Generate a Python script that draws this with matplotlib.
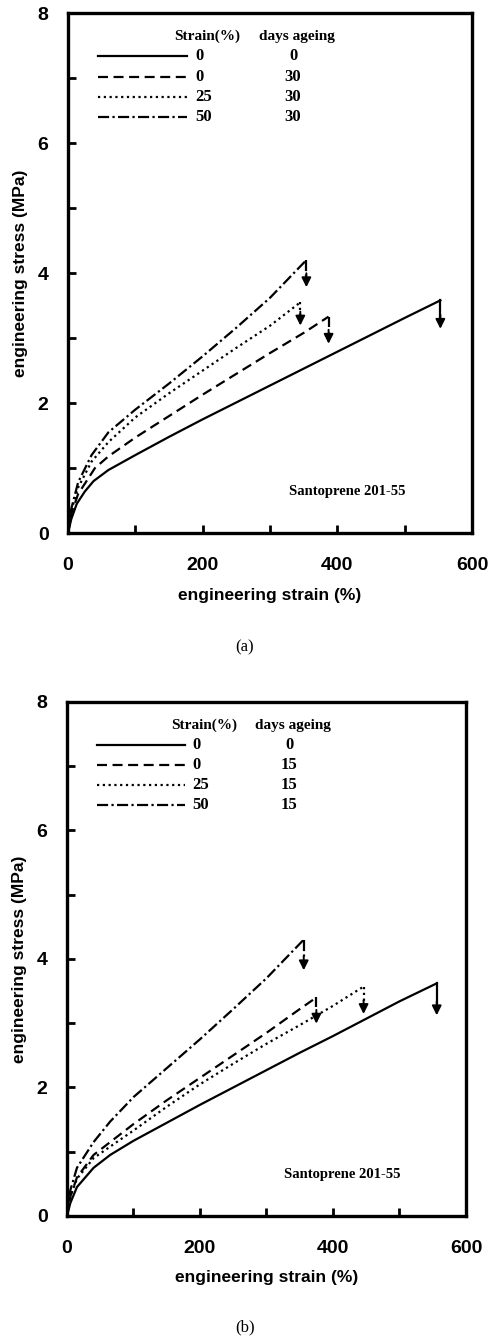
import matplotlib
matplotlib.use("Agg")
import matplotlib.pyplot as plt
from matplotlib.ticker import MultipleLocator

# panel (a): 30 days ageing
a_solid_x = [0, 5, 13, 25, 38, 60, 100, 150, 200, 250, 300, 350, 400, 450, 500, 553]
a_solid_y = [0, 0.22, 0.45, 0.64, 0.8, 0.97, 1.2, 1.48, 1.75, 2.01, 2.27, 2.53, 2.79, 3.05, 3.31, 3.58]
a_dash_x = [0, 5, 15, 40, 60, 100, 150, 200, 250, 300, 350, 387]
a_dash_y = [0, 0.3, 0.6, 1.0, 1.18, 1.47, 1.8, 2.13, 2.45, 2.77, 3.08, 3.33]
a_dot_x = [0, 5, 15, 35, 60, 100, 150, 200, 250, 300, 345]
a_dot_y = [0, 0.35, 0.7, 1.1, 1.4, 1.78, 2.15, 2.5, 2.85, 3.19, 3.55]
a_dd_x = [0, 5, 15, 35, 60, 100, 150, 200, 250, 300, 354]
a_dd_y = [0, 0.38, 0.78, 1.2, 1.55, 1.9, 2.3, 2.72, 3.16, 3.62, 4.2]
a_break_tip = [3.1, 2.87, 3.15, 3.74]
a_days = ["0", "30", "30", "30"]

# panel (b): 15 days ageing
b_solid_x = [0, 5, 15, 40, 65, 100, 150, 200, 250, 300, 350, 400, 450, 500, 556]
b_solid_y = [0, 0.2, 0.45, 0.75, 0.95, 1.17, 1.45, 1.73, 2.0, 2.27, 2.54, 2.8, 3.07, 3.34, 3.62]
b_dash_x = [0, 5, 15, 40, 65, 100, 150, 200, 250, 300, 350, 375]
b_dash_y = [0, 0.3, 0.6, 0.95, 1.15, 1.43, 1.8, 2.15, 2.5, 2.85, 3.22, 3.4]
b_dot_x = [0, 5, 15, 40, 65, 100, 150, 200, 250, 300, 350, 400, 446]
b_dot_y = [0, 0.3, 0.58, 0.9, 1.08, 1.33, 1.7, 2.05, 2.37, 2.68, 2.97, 3.27, 3.57]
b_dd_x = [0, 5, 15, 40, 65, 100, 150, 200, 250, 300, 356]
b_dd_y = [0, 0.4, 0.75, 1.15, 1.47, 1.85, 2.3, 2.75, 3.22, 3.7, 4.3]
b_break_tip = [3.08, 2.95, 3.1, 3.78]
b_days = ["0", "15", "15", "15"]

strain_pct = ["0", "0", "25", "50"]

styles = ["-", (0, (4.5, 2.5)), (0, (1, 1.6)), (0, (5, 1.5, 1, 1.5))]

sans = "Liberation Sans"
serif = "Liberation Serif"


def draw_panel(ax, curves, tips, days):
    for (x, y), ls, tip in zip(curves, styles, tips):
        ax.plot(x, y, color="k", lw=1.6, ls=ls)
        # drop at the break point
        ax.plot([x[-1], x[-1]], [y[-1], tip + 0.15], color="k", lw=1.6, ls=ls)
        ax.annotate("", xy=(x[-1], tip), xytext=(x[-1], tip + 0.3),
                    arrowprops=dict(arrowstyle="-|>", color="k", lw=1.4,
                                    mutation_scale=14))

    # legend table
    ax.text(0.344, 0.955, "Strain(%)", transform=ax.transAxes, ha="center", va="center",
            family=serif, weight="bold", fontsize=11)
    ax.text(0.567, 0.955, "days ageing", transform=ax.transAxes, ha="center", va="center",
            family=serif, weight="bold", fontsize=11)
    rows = [0.917, 0.878, 0.839, 0.8]
    for ry, ls, s, d in zip(rows, styles, strain_pct, days):
        ax.plot([0.075, 0.295], [ry, ry], transform=ax.transAxes, color="k", lw=1.6, ls=ls)
        ax.text(0.315, ry, s, transform=ax.transAxes, ha="left", va="center",
                family=serif, weight="bold", fontsize=12)
        ax.text(0.557, ry, d, transform=ax.transAxes, ha="center", va="center",
                family=serif, weight="bold", fontsize=12)

    ax.text(0.69, 0.08, "Santoprene 201-55", transform=ax.transAxes, ha="center", va="center",
            family=serif, weight="bold", fontsize=10.5)

    ax.set_xlim(0, 600)
    ax.set_ylim(0, 8)
    ax.xaxis.set_major_locator(MultipleLocator(200))
    ax.xaxis.set_minor_locator(MultipleLocator(100))
    ax.yaxis.set_major_locator(MultipleLocator(2))
    ax.yaxis.set_minor_locator(MultipleLocator(1))
    ax.tick_params(which="both", direction="in", length=6, width=2,
                   top=False, right=False)
    ax.tick_params(axis="x", which="major", pad=17)
    ax.tick_params(axis="y", which="major", pad=14)
    for lab in ax.get_xticklabels() + ax.get_yticklabels():
        lab.set_family(sans)
        lab.set_weight("bold")
        lab.set_fontsize(14)
    for sp in ax.spines.values():
        sp.set_linewidth(2.4)

    ax.set_xlabel("engineering strain (%)", family=sans, weight="bold", fontsize=12.5)
    ax.set_ylabel("engineering stress (MPa)", family=sans, weight="bold", fontsize=12.5)
    ax.xaxis.set_label_coords(0.5, -0.105)
    ax.yaxis.set_label_coords(-0.1, 0.5)


fig = plt.figure(figsize=(4.9, 13.38), dpi=100)
ax1 = fig.add_axes([0.1388, 0.6016, 0.8245, 0.3886])
ax2 = fig.add_axes([0.1367, 0.0912, 0.8143, 0.3842])

draw_panel(ax1, [(a_solid_x, a_solid_y), (a_dash_x, a_dash_y),
                 (a_dot_x, a_dot_y), (a_dd_x, a_dd_y)], a_break_tip, a_days)
draw_panel(ax2, [(b_solid_x, b_solid_y), (b_dash_x, b_dash_y),
                 (b_dot_x, b_dot_y), (b_dd_x, b_dd_y)], b_break_tip, b_days)

fig.text(0.5, 1 - 647 / 1338, "(a)", ha="center", va="center", family=serif, fontsize=12)
fig.text(0.5, 1 - 1327 / 1338, "(b)", ha="center", va="center", family=serif, fontsize=12)

fig.savefig("out.png", dpi=100)
